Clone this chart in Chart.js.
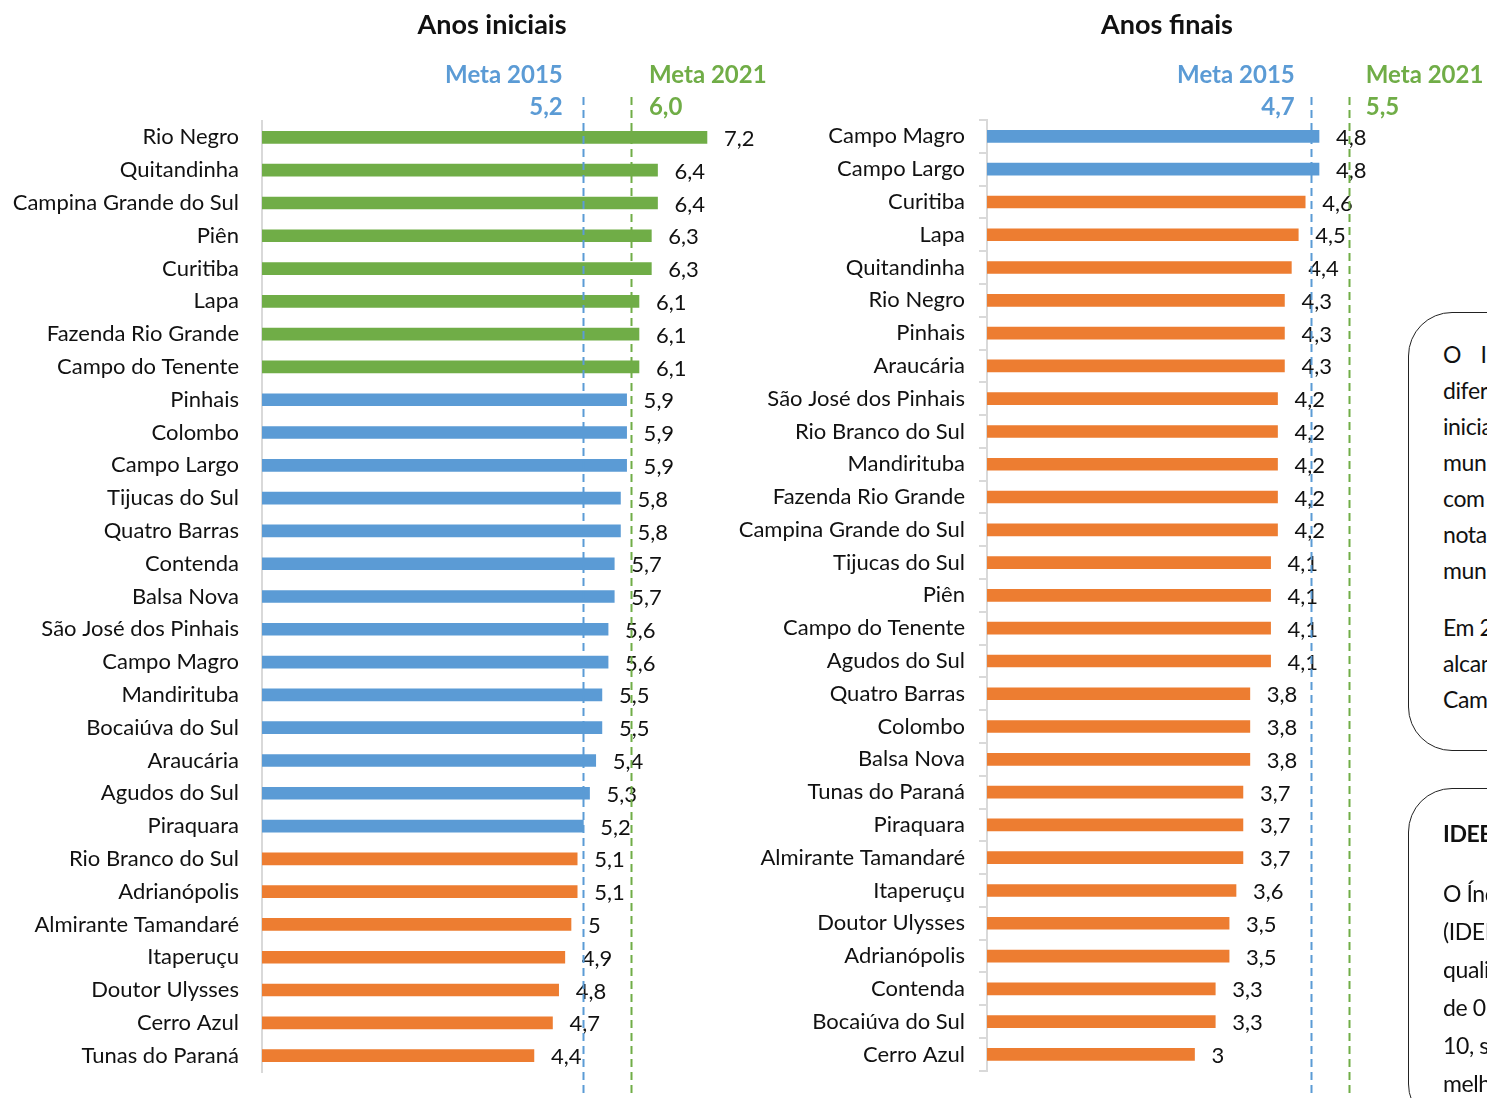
<!DOCTYPE html>
<html>
<head>
<meta charset="utf-8">
<script src="https://cdn.jsdelivr.net/npm/chart.js@4.4.0/dist/chart.umd.min.js"></script>
<style>
  html, body { margin:0; padding:0; background:#fff; }
  body { width:1487px; height:1098px; position:relative; overflow:hidden; font-family:Lato, "Open Sans", sans-serif; }
  canvas { position:absolute; top:0; }
  #c1 { left:0; }
  #c2 { left:720px; }
  .box { position:absolute; left:1408px; width:300px; border:1.5px solid #222; border-radius:44px; background:#fff; box-sizing:border-box; padding-left:34px; color:#111; font-size:23px; letter-spacing:-0.4px; white-space:nowrap; overflow:hidden; }
  #b1 { top:312px; height:439px; padding-top:23px; line-height:36px; }
  #b2 { top:788px; height:340px; padding-top:25px; line-height:38px; }
  .box p { margin:0; }
</style>
</head>
<body>
<canvas id="c1" width="780" height="1098"></canvas>
<canvas id="c2" width="767" height="1098"></canvas>
<div class="box" id="b1">
  <p style="word-spacing:14px">O IDEB apresenta</p>
  <p>diferenças entre os anos</p>
  <p>iniciais e finais nos</p>
  <p>municípios da RMC,</p>
  <p>com destaque para as</p>
  <p>notas obtidas pelos</p>
  <p>municípios do entorno.</p>
  <p style="margin-top:21px">Em 2015, apenas</p>
  <p>alcançaram a meta</p>
  <p>Campo Magro e Campo Largo.</p>
</div>
<div class="box" id="b2">
  <p style="font-weight:bold; margin-bottom:22px">IDEB</p>
  <p>O Índice de Desenvolvimento</p>
  <p>(IDEB) mede a</p>
  <p>qualidade do ensino, numa escala</p>
  <p>de 0 a</p>
  <p>10, sendo que quanto maior,</p>
  <p>melhor.</p>
</div>
<script>
// ---------- DATA ----------
const iniciaisLabels = ["Rio Negro","Quitandinha","Campina Grande do Sul","Piên","Curitiba","Lapa","Fazenda Rio Grande","Campo do Tenente","Pinhais","Colombo","Campo Largo","Tijucas do Sul","Quatro Barras","Contenda","Balsa Nova","São José dos Pinhais","Campo Magro","Mandirituba","Bocaiúva do Sul","Araucária","Agudos do Sul","Piraquara","Rio Branco do Sul","Adrianópolis","Almirante Tamandaré","Itaperuçu","Doutor Ulysses","Cerro Azul","Tunas do Paraná"];
const iniciaisValues = [7.2,6.4,6.4,6.3,6.3,6.1,6.1,6.1,5.9,5.9,5.9,5.8,5.8,5.7,5.7,5.6,5.6,5.5,5.5,5.4,5.3,5.2,5.1,5.1,5.0,4.9,4.8,4.7,4.4];
const iniciaisMetas = [5.2, 6.0];          // Meta 2015, Meta 2021
const iniciaisMetaLinePos = [5.19, 5.97];  // where the dashed lines sit in the picture

const finaisLabels = ["Campo Magro","Campo Largo","Curitiba","Lapa","Quitandinha","Rio Negro","Pinhais","Araucária","São José dos Pinhais","Rio Branco do Sul","Mandirituba","Fazenda Rio Grande","Campina Grande do Sul","Tijucas do Sul","Piên","Campo do Tenente","Agudos do Sul","Quatro Barras","Colombo","Balsa Nova","Tunas do Paraná","Piraquara","Almirante Tamandaré","Itaperuçu","Doutor Ulysses","Adrianópolis","Contenda","Bocaiúva do Sul","Cerro Azul"];
const finaisValues = [4.8,4.8,4.6,4.5,4.4,4.3,4.3,4.3,4.2,4.2,4.2,4.2,4.2,4.1,4.1,4.1,4.1,3.8,3.8,3.8,3.7,3.7,3.7,3.6,3.5,3.5,3.3,3.3,3.0];
const finaisMetas = [4.7, 5.5];
const finaisMetaLinePos = [4.68, 5.23];

const metaNames = ["Meta 2015", "Meta 2021"];
const titles = ["Anos iniciais", "Anos finais"];

// ---------- STYLE ----------
const GREEN = "#70AD47", BLUE = "#5B9BD5", ORANGE = "#ED7D31";
const FONT = "Lato, 'Open Sans', sans-serif";
const fmt = v => v.toLocaleString("pt-BR", {minimumFractionDigits:0, maximumFractionDigits:1});
const metaFmt = v => v.toLocaleString("pt-BR", {minimumFractionDigits:1, maximumFractionDigits:1});

function colorFor(v, metas) {
  if (v >= metas[1]) return GREEN;
  if (v >= metas[0]) return BLUE;
  return ORANGE;
}

function makeChart(id, labels, values, metas, linePos, title, cfg) {
  const overlay = {
    id: "overlay-" + id,
    afterDatasetsDraw(chart) {
      const ctx = chart.ctx;
      const xs = chart.scales.x;
      const meta = chart.getDatasetMeta(0);
      ctx.save();
      // value labels
      ctx.font = "22px " + FONT;
      ctx.fillStyle = "#111";
      ctx.textBaseline = "middle";
      ctx.textAlign = "left";
      meta.data.forEach((bar, i) => {
        ctx.fillText(fmt(values[i]), bar.x + 17, bar.y + 1.5);
      });
      // dashed meta lines
      const cols = [BLUE, GREEN];
      linePos.forEach((p, k) => {
        const x = Math.round(xs.getPixelForValue(p)) + 0.5;
        ctx.strokeStyle = cols[k];
        ctx.lineWidth = 2;
        ctx.setLineDash([8, 5]);
        ctx.beginPath();
        ctx.moveTo(x, 97);
        ctx.lineTo(x, chart.height);
        ctx.stroke();
      });
      ctx.setLineDash([]);
      // meta labels
      ctx.font = "bold 24px " + FONT;
      linePos.forEach((p, k) => {
        const x = xs.getPixelForValue(p);
        ctx.fillStyle = cols[k];
        if (k === 0) {
          ctx.textAlign = "right";
          ctx.fillText(metaNames[k], x - cfg.metaGapL, 75);
          ctx.fillText(metaFmt(metas[k]), x - cfg.metaGapL, 107);
        } else {
          ctx.textAlign = "left";
          ctx.fillText(metaNames[k], x + cfg.metaGapR, 75);
          ctx.fillText(metaFmt(metas[k]), x + cfg.metaGapR, 107);
        }
      });
      // title
      ctx.font = "bold 27px " + FONT;
      ctx.fillStyle = "#111";
      ctx.textAlign = "center";
      ctx.fillText(title, cfg.titleX, 25);
      ctx.restore();
    }
  };
  return new Chart(document.getElementById(id), {
    type: "bar",
    data: {
      labels: labels,
      datasets: [{
        data: values,
        backgroundColor: values.map(v => colorFor(v, metas)),
        barThickness: 12,
        borderWidth: 0
      }]
    },
    options: {
      indexAxis: "y",
      responsive: false,
      animation: false,
      devicePixelRatio: 1,
      layout: { padding: { top: cfg.padTop, bottom: 26, left: 0, right: cfg.padRight } },
      plugins: { legend: { display: false }, tooltip: { enabled: false } },
      scales: {
        x: { display: false, min: 0, max: cfg.xMax },
        y: {
          afterFit: s => { s.width = cfg.axisW; },
          border: { display: true, color: "#d9d9d9", width: 2 },
          grid: { display: true, drawOnChartArea: false, drawTicks: true, tickLength: cfg.tickLen, color: cfg.tickColor, lineWidth: 2 },
          ticks: { color: "#111", font: { family: FONT, size: 22 }, padding: cfg.tickPad, autoSkip: false }
        }
      }
    },
    plugins: [overlay]
  });
}

makeChart("c1", iniciaisLabels, iniciaisValues, iniciaisMetas, iniciaisMetaLinePos, titles[0],
  { axisW: 262, xMax: 8, padRight: 780 - 262 - 61.8 * 8, padTop: 121, tickLen: 14, tickPad: 9, tickColor: "rgba(0,0,0,0)", metaGapL: 20, metaGapR: 18, titleX: 492 });
makeChart("c2", finaisLabels, finaisValues, finaisMetas, finaisMetaLinePos, titles[1],
  { axisW: 267, xMax: 6, padRight: 767 - 267 - 69.17 * 6, padTop: 120, tickLen: 8, tickPad: 14, tickColor: "#d9d9d9", metaGapL: 16, metaGapR: 17, titleX: 1167 - 720 });
</script>
</body>
</html>
